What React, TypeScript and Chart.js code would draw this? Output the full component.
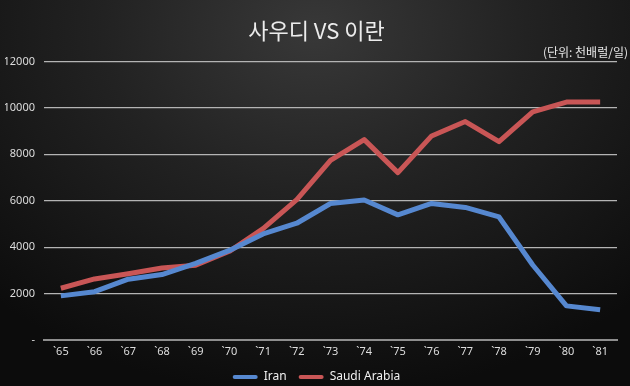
import React, { useEffect, useRef } from "react";
import { Chart, registerables } from "chart.js";

Chart.register(...registerables);

const years = ["`65", "`66", "`67", "`68", "`69", "`70", "`71", "`72", "`73", "`74", "`75", "`76", "`77", "`78", "`79", "`80", "`81"];
const iran = [1900, 2080, 2620, 2820, 3300, 3860, 4570, 5030, 5880, 6030, 5390, 5880, 5710, 5300, 3230, 1470, 1300];
const saudi = [2230, 2630, 2850, 3100, 3220, 3820, 4800, 6050, 7740, 8630, 7210, 8790, 9410, 8540, 9830, 10250, 10250];
const yTicks = [0, 2000, 4000, 6000, 8000, 10000, 12000];

const FONT = "'Noto Sans CJK KR', 'Noto Sans', sans-serif";
const LATIN = "'Noto Sans', 'Noto Sans CJK KR', sans-serif";

export default function App() {
  const ref = useRef<HTMLCanvasElement | null>(null);

  useEffect(() => {
    if (!ref.current) return;
    const chart = new Chart(ref.current, {
      type: "line",
      data: {
        labels: years,
        datasets: [
          {
            label: "Iran",
            data: iran,
            borderColor: "#5688d0",
            backgroundColor: "#5688d0",
            borderWidth: 5,
            pointRadius: 0,
            tension: 0,
            borderJoinStyle: "round",
          },
          {
            label: "Saudi Arabia",
            data: saudi,
            borderColor: "#c95656",
            backgroundColor: "#c95656",
            borderWidth: 5,
            pointRadius: 0,
            tension: 0,
            borderJoinStyle: "round",
          },
        ],
      },
      options: {
        responsive: false,
        animation: false,
        layout: { padding: { left: 5, right: 2, top: 0, bottom: -7 } },
        plugins: {
          title: {
            display: true,
            text: "사우디 VS 이란",
            color: "#ececec",
            font: { family: FONT, size: 22, weight: "normal" },
            padding: { top: 17, bottom: 2 },
          },
          subtitle: {
            display: true,
            text: "(단위: 천배럴/일)",
            align: "end",
            color: "#e6e6e6",
            font: { family: FONT, size: 12, weight: "normal" },
            padding: { top: 0, bottom: 1.6 },
          },
          legend: {
            position: "bottom",
            labels: {
              color: "#f0f0f0",
              font: { family: LATIN, size: 12 },
              boxWidth: 25,
              boxHeight: 4,
              padding: 12,
              useBorderRadius: true,
              borderRadius: 2,
              generateLabels: (c: any) => {
                const items = Chart.defaults.plugins.legend.labels.generateLabels(c);
                return items.map((it: any) => ({ ...it, lineWidth: 0, strokeStyle: "transparent", borderRadius: 2 }));
              },
            },
          },
          tooltip: { enabled: false },
        },
        scales: {
          x: {
            offset: true,
            grid: { display: false },
            border: { display: true, color: "#8e8e8e", width: 2 },
            afterFit: (s: any) => {
              s.height = 19;
            },
            ticks: {
              color: "#dddddd",
              font: { family: LATIN, size: 11 },
              padding: -3,
              maxRotation: 0,
              minRotation: 0,
              autoSkip: false,
            },
          },
          y: {
            min: 0,
            max: 12000,
            afterBuildTicks: (s: any) => {
              s.ticks = yTicks.map((v) => ({ value: v }));
            },
            afterFit: (s: any) => {
              s.width = 39;
            },
            grid: {
              drawTicks: false,
              color: (ctx: any) => (ctx.tick && ctx.tick.value === 0 ? "#8e8e8e" : "#b4b4b4"),
              lineWidth: (ctx: any) => (ctx.tick && ctx.tick.value === 0 ? 2 : 1.2),
            },
            border: { display: false },
            ticks: {
              color: "#dddddd",
              font: { family: LATIN, size: 11 },
              padding: 9,
              callback: (v: any) => (v === 0 ? "-" : String(v)),
            },
          },
          y2: {
            position: "right",
            display: true,
            grid: { display: false },
            border: { display: false },
            ticks: { display: false },
            afterFit: (s: any) => {
              s.width = 11;
            },
          },
        },
      },
    });
    return () => chart.destroy();
  }, []);

  return (
    <div
      style={{
        position: "fixed",
        left: 0,
        top: 0,
        width: 630,
        height: 386,
        background: "radial-gradient(ellipse 75% 95% at 50% 8%, #383838 0%, #222222 45%, #0c0c0c 100%)",
      }}
    >
      <canvas ref={ref} width={630} height={386} style={{ display: "block" }} />
    </div>
  );
}
